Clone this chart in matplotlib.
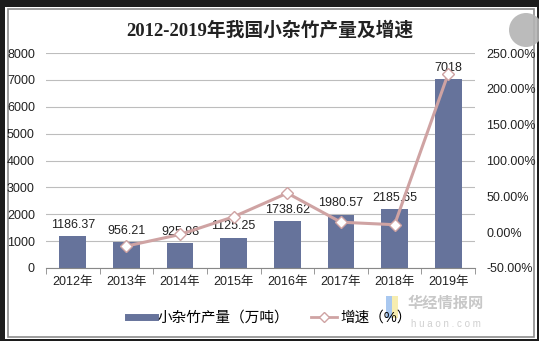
import matplotlib
matplotlib.use("Agg")
import matplotlib.pyplot as plt
from matplotlib.patches import Rectangle, Ellipse
from matplotlib.lines import Line2D
import numpy as np

plt.rcParams['font.family'] = ['Liberation Sans', 'Noto Sans CJK SC']

years = ["2012年", "2013年", "2014年", "2015年", "2016年", "2017年", "2018年", "2019年"]
output = [1186.37, 956.21, 925.98, 1125.25, 1738.62, 1980.57, 2185.65, 7018]
output_labels = ["1186.37", "956.21", "925.98", "1125.25", "1738.62", "1980.57", "2185.65", "7018"]
growth_years = years[1:]
growth = [-19.4, -3.2, 21.5, 54.5, 13.9, 10.4, 221.1]

W, H = 539, 341
fig = plt.figure(figsize=(W/100, H/100), dpi=100)
fig.patch.set_facecolor('#1c1c1c')

def fx(px): return px / W
def fy(py): return 1 - py / H

# white panel
fig.patches.append(Rectangle((fx(5), fy(339)), fx(532), (339-7)/H, transform=fig.transFigure,
                             facecolor='white', edgecolor='none', zorder=-3))
fig.patches.append(Rectangle((fx(7.5), fy(336.5)), (534-7.5)/W, (336.5-9)/H, transform=fig.transFigure,
                             facecolor='none', edgecolor='#8c8c8c', lw=1.2, zorder=-2))

ax = fig.add_axes([fx(46), fy(268), (475-46)/W, (268-53)/H])
ax.set_facecolor('none')
x = np.arange(len(years))
bar_color = '#66739b'
ax.bar(x, output, width=0.5, color=bar_color, zorder=2)
ax.set_xlim(-0.5, len(years) - 0.5)
ax.set_ylim(0, 8000)
ax.set_yticks(np.arange(0, 8001, 1000))
ax.set_yticklabels([str(v) for v in range(0, 8001, 1000)], fontsize=9, color='#222222')
ax.tick_params(axis='y', length=0, pad=8)
ax.yaxis.grid(True, color='#bdbdbd', lw=0.8)
ax.set_axisbelow(True)
ax.set_xticks(x)
ax.set_xticklabels(years, fontsize=9, color='#222222')
ax.set_xticks(np.arange(-0.5, len(years), 1), minor=True)
ax.tick_params(axis='x', which='major', length=0, pad=6)
ax.tick_params(axis='x', which='minor', length=4, color='#888888', direction='out')
for s in ['top', 'right', 'left']:
    ax.spines[s].set_visible(False)
ax.spines['bottom'].set_color('#888888')
ax.spines['bottom'].set_linewidth(0.8)

for xi, v, lab in zip(x, output, output_labels):
    ax.text(xi, v + 200, lab, ha='center', va='bottom', fontsize=9, color='#222222', zorder=5)

ax2 = ax.twinx()
line_color = '#cfa3a3'
ax2.plot(x[1:], growth, color=line_color, lw=2.2, marker='D', markersize=6,
         markerfacecolor='white', markeredgecolor=line_color, markeredgewidth=1, zorder=4)
ax2.set_ylim(-50, 250)
ax2.set_yticks(np.arange(-50, 251, 50))
ax2.set_yticklabels([f"{v:.2f}%" for v in range(-50, 251, 50)], fontsize=9, color='#222222')
ax2.tick_params(axis='y', length=0, pad=8)
for s in ['top', 'right', 'left', 'bottom']:
    ax2.spines[s].set_visible(False)

fig.text(fx(270), fy(30), "2012-2019年我国小杂竹产量及增速", ha='center', va='center', fontsize=13.5,
         fontweight='bold', family=['Liberation Serif', 'Noto Sans CJK SC'], color='#222222')

# overlay icon
fig.patches.append(Ellipse((fx(526), fy(30)), 34/W, 34/H, transform=fig.transFigure,
                           facecolor='#b4b4b4', edgecolor='none', alpha=0.9, zorder=10))

# watermark
fig.patches.append(Rectangle((fx(386), fy(318)), 6/W, 22/H, transform=fig.transFigure,
                             facecolor='#a9c8f0', edgecolor='none', zorder=-1))
fig.patches.append(Rectangle((fx(392), fy(318)), 6/W, 22/H, transform=fig.transFigure,
                             facecolor='#f6edb0', edgecolor='none', zorder=-1))
fig.text(fx(446), fy(304), "华经情报网", ha='center', va='center', fontsize=11, fontweight='bold',
         color='#c8c8c8')
fig.text(fx(446), fy(324), "h u a o n . c o m", ha='center', va='center', fontsize=7, color='#d0d0d0')

handles = [Line2D([0], [0], color=bar_color, lw=5),
           Line2D([0], [0], color=line_color, lw=2, marker='D', markersize=5,
                  markerfacecolor='white', markeredgecolor=line_color)]
fig.legend(handles, ["小杂竹产量（万吨）", "增速（%）"], loc='center', bbox_to_anchor=(fx(270), fy(318)),
           ncol=2, frameon=False, fontsize=10.5, handlelength=1.8, columnspacing=1.5, handletextpad=0.2)

fig.savefig("out.png", dpi=100, facecolor=fig.get_facecolor())
